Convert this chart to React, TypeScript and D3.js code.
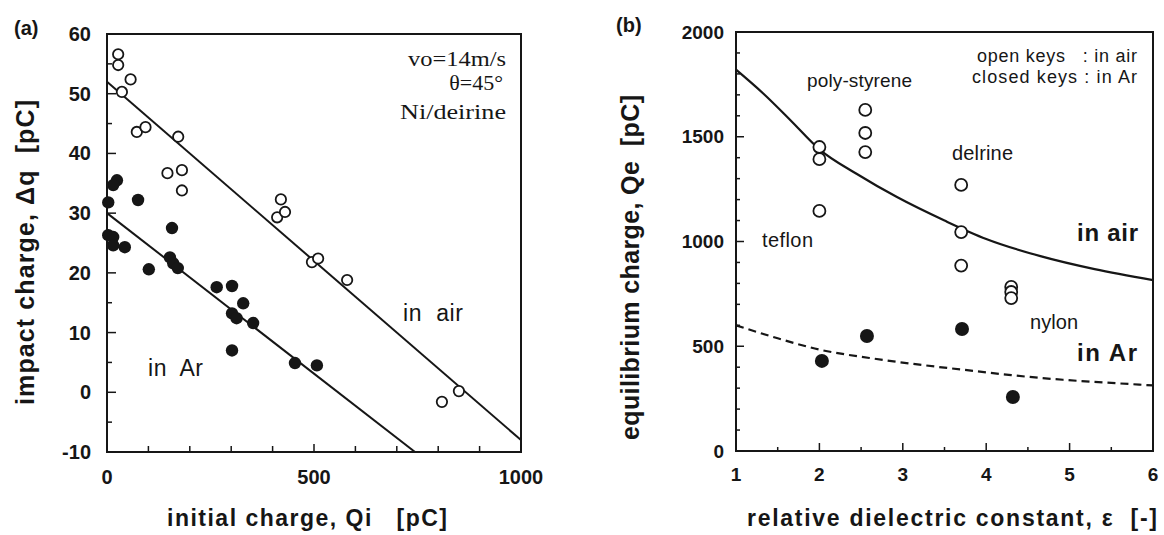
import React from 'react';
import * as d3 from 'd3';

// ---------- Panel (a) data ----------
const airQi = [27, 27, 57, 36, 72, 93, 172, 146, 181, 181, 420, 411, 430, 495, 510, 580, 850, 809];
const airDq = [56.6, 54.8, 52.4, 50.3, 43.6, 44.4, 42.8, 36.7, 37.2, 33.8, 32.3, 29.3, 30.2, 21.8, 22.4, 18.8, 0.2, -1.6];
const arQi = [24, 15, 3, 75, 3, 15, 43, 157, 15, 152, 101, 160, 171, 265, 302, 329, 302, 313, 353, 302, 454, 507];
const arDq = [35.5, 34.7, 31.8, 32.2, 26.3, 26, 24.3, 27.5, 24.6, 22.6, 20.6, 21.6, 20.8, 17.6, 17.8, 14.9, 13.2, 12.4, 11.6, 7.0, 4.9, 4.5];
const airFitQi = [0, 1000];
const airFitDq = [52, -8];
const arFitQi = [0, 744];
const arFitDq = [30, -10];
const aXTicks = [0, 500, 1000];
const aYTicks = [-10, 0, 10, 20, 30, 40, 50, 60];

// ---------- Panel (b) data ----------
const openEps = [2, 2, 2, 2.55, 2.55, 2.55, 3.7, 3.7, 3.7, 4.3, 4.3, 4.3];
const openQe = [1451, 1393, 1146, 1628, 1518, 1427, 1270, 1045, 885, 783, 759, 730];
const closedEps = [2.03, 2.57, 3.71, 4.32];
const closedQe = [430, 549, 582, 258];
const airCurveEps = [1, 1.33, 1.65, 2, 2.45, 2.93, 3.5, 4, 4.65, 5.3, 6];
const airCurveQe = [1820, 1705, 1580, 1440, 1322, 1212, 1100, 1012, 930, 868, 816];
const arCurveEps = [1, 1.5, 2, 2.6, 3.2, 3.72, 4.3, 4.92, 5.5, 6];
const arCurveQe = [600, 538, 484, 444, 412, 388, 362, 340, 325, 313];
const bXTicks = [1, 2, 3, 4, 5, 6];
const bYTicks = [0, 500, 1000, 1500, 2000];

const INK = '#161616';
const SANS = '"Liberation Sans", Arial, sans-serif';
const SERIF = '"Liberation Serif", "Times New Roman", serif';

function PanelA() {
  const x = d3.scaleLinear().domain([0, 1000]).range([107, 521]);
  const y = d3.scaleLinear().domain([-10, 60]).range([452, 34]);
  const line = d3.line<[number, number]>().x(d => x(d[0])).y(d => y(d[1]));
  const minorY = d3.range(-10, 61, 5);
  const minorX = d3.range(0, 1001, 100);
  return (
    <g>
      <text x={14} y={35} fontFamily={SANS} fontWeight="bold" fontSize={20} fill={INK}>(a)</text>
      <rect x={x(0)} y={y(60)} width={x(1000) - x(0)} height={y(-10) - y(60)} fill="none" stroke={INK} strokeWidth={2} />
      {minorY.map(v => (
        <line key={'ay' + v} x1={x(0)} x2={x(0) + (v % 10 === 0 ? 9 : 5)} y1={y(v)} y2={y(v)} stroke={INK} strokeWidth={1.5} />
      ))}
      {minorX.map(v => (
        <line key={'ax' + v} x1={x(v)} x2={x(v)} y1={y(-10)} y2={y(-10) - (v % 500 === 0 ? 8 : 6)} stroke={INK} strokeWidth={1.5} />
      ))}
      {aYTicks.map(v => (
        <text key={'ayl' + v} x={x(0) - 16} y={y(v)} dy="0.35em" textAnchor="end" fontFamily={SANS} fontWeight="bold" fontSize={20} fill={INK}>{v}</text>
      ))}
      {aXTicks.map(v => (
        <text key={'axl' + v} x={x(v)} y={477} dy="0.35em" textAnchor="middle" fontFamily={SANS} fontWeight="bold" fontSize={20} fill={INK}>{v}</text>
      ))}
      <path d={line(airFitQi.map((q, i) => [q, airFitDq[i]]) as [number, number][]) || ''} fill="none" stroke={INK} strokeWidth={2} />
      <path d={line(arFitQi.map((q, i) => [q, arFitDq[i]]) as [number, number][]) || ''} fill="none" stroke={INK} strokeWidth={2} />
      {airQi.map((q, i) => (
        <circle key={'ao' + i} cx={x(q)} cy={y(airDq[i])} r={5.2} fill="white" stroke={INK} strokeWidth={1.8} />
      ))}
      {arQi.map((q, i) => (
        <circle key={'af' + i} cx={x(q)} cy={y(arDq[i])} r={6.2} fill={INK} />
      ))}
      <text x={506} y={58} dy="0.35em" textAnchor="end" fontFamily={SERIF} fontSize={22} fill={INK} textLength={98} lengthAdjust="spacingAndGlyphs">vo=14m/s</text>
      <text x={503} y={82} dy="0.35em" textAnchor="end" fontFamily={SERIF} fontSize={22} fill={INK}>θ=45°</text>
      <text x={506} y={111} dy="0.35em" textAnchor="end" fontFamily={SERIF} fontSize={22} fill={INK} textLength={106} lengthAdjust="spacingAndGlyphs">Ni/deirine</text>
      <text x={403} y={313} dy="0.35em" fontFamily={SANS} fontSize={23} fill={INK} textLength={60} style={{ whiteSpace: 'pre' }}>in  air</text>
      <text x={148} y={368} dy="0.35em" fontFamily={SANS} fontSize={23} fill={INK} textLength={55} style={{ whiteSpace: 'pre' }}>in  Ar</text>
      <text x={167} y={526} fontFamily={SANS} fontWeight="bold" fontSize={23} fill={INK} textLength={280} style={{ whiteSpace: 'pre' }}>initial charge, Qi   [pC]</text>
      <text transform="translate(25,405) rotate(-90)" dy="0.35em" fontFamily={SANS} fontWeight="bold" fontSize={25} fill={INK} textLength={305} style={{ whiteSpace: 'pre' }}>impact charge, Δq  [pC]</text>
    </g>
  );
}

function PanelB() {
  const x = d3.scaleLinear().domain([1, 6]).range([736, 1153]);
  const y = d3.scaleLinear().domain([0, 2000]).range([451, 32]);
  const curve = d3.line<[number, number]>().x(d => x(d[0])).y(d => y(d[1])).curve(d3.curveMonotoneX);
  const minorY = d3.range(0, 2001, 100);
  const minorX = d3.range(1, 6.01, 0.5);
  return (
    <g>
      <text x={616} y={32} fontFamily={SANS} fontWeight="bold" fontSize={20} fill={INK}>(b)</text>
      <rect x={x(1)} y={y(2000)} width={x(6) - x(1)} height={y(0) - y(2000)} fill="none" stroke={INK} strokeWidth={2} />
      {minorY.map(v => (
        <line key={'by' + v} x1={x(1)} x2={x(1) + (v % 500 === 0 ? 8 : 4)} y1={y(v)} y2={y(v)} stroke={INK} strokeWidth={1.5} />
      ))}
      {minorX.map(v => (
        <line key={'bx' + v} x1={x(v)} x2={x(v)} y1={y(0)} y2={y(0) - (Number.isInteger(v) ? 8 : 4)} stroke={INK} strokeWidth={1.5} />
      ))}
      {bYTicks.map(v => (
        <text key={'byl' + v} x={724} y={y(v)} dy="0.35em" textAnchor="end" fontFamily={SANS} fontWeight="bold" fontSize={19} fill={INK}>{v}</text>
      ))}
      {bXTicks.map(v => (
        <text key={'bxl' + v} x={x(v)} y={474} dy="0.35em" textAnchor="middle" fontFamily={SANS} fontWeight="bold" fontSize={19} fill={INK}>{v}</text>
      ))}
      <path d={curve(airCurveEps.map((e, i) => [e, airCurveQe[i]]) as [number, number][]) || ''} fill="none" stroke={INK} strokeWidth={2.2} />
      <path d={curve(arCurveEps.map((e, i) => [e, arCurveQe[i]]) as [number, number][]) || ''} fill="none" stroke={INK} strokeWidth={2.2} strokeDasharray="8,5" />
      {openEps.map((e, i) => (
        <circle key={'bo' + i} cx={x(e)} cy={y(openQe[i])} r={6} fill="white" stroke={INK} strokeWidth={1.8} />
      ))}
      {closedEps.map((e, i) => (
        <circle key={'bf' + i} cx={x(e)} cy={y(closedQe[i])} r={7} fill={INK} />
      ))}
      <text x={1137} y={56} dy="0.35em" textAnchor="end" fontFamily={SANS} fontSize={18} fill={INK} textLength={160} style={{ whiteSpace: 'pre' }}>open keys   : in air</text>
      <text x={1137} y={77} dy="0.35em" textAnchor="end" fontFamily={SANS} fontSize={18} fill={INK} textLength={165}>closed keys : in Ar</text>
      <text x={807} y={80} dy="0.35em" fontFamily={SANS} fontSize={19} fill={INK} textLength={105}>poly-styrene</text>
      <text x={762} y={240} dy="0.35em" fontFamily={SANS} fontSize={20} fill={INK} textLength={51}>teflon</text>
      <text x={952} y={153} dy="0.35em" fontFamily={SANS} fontSize={20} fill={INK} textLength={61}>delrine</text>
      <text x={1030} y={322} dy="0.35em" fontFamily={SANS} fontSize={20} fill={INK} textLength={48}>nylon</text>
      <text x={1077} y={233} dy="0.35em" fontFamily={SANS} fontWeight="bold" fontSize={24} fill={INK} textLength={61}>in air</text>
      <text x={1077} y={353} dy="0.35em" fontFamily={SANS} fontWeight="bold" fontSize={24} fill={INK} textLength={60}>in Ar</text>
      <text x={747} y={526} fontFamily={SANS} fontWeight="bold" fontSize={23} fill={INK} textLength={410} style={{ whiteSpace: 'pre' }}>relative dielectric constant, ε  [-]</text>
      <text transform="translate(630,440) rotate(-90)" dy="0.35em" fontFamily={SANS} fontWeight="bold" fontSize={25} fill={INK} textLength={345} style={{ whiteSpace: 'pre' }}>equilibrium charge, Qe  [pC]</text>
    </g>
  );
}

export default function App() {
  return (
    <svg width={1164} height={535} style={{ position: 'absolute', left: 0, top: 0, background: 'white' }}>
      <rect width={1164} height={535} fill="white" />
      <PanelA />
      <PanelB />
    </svg>
  );
}
